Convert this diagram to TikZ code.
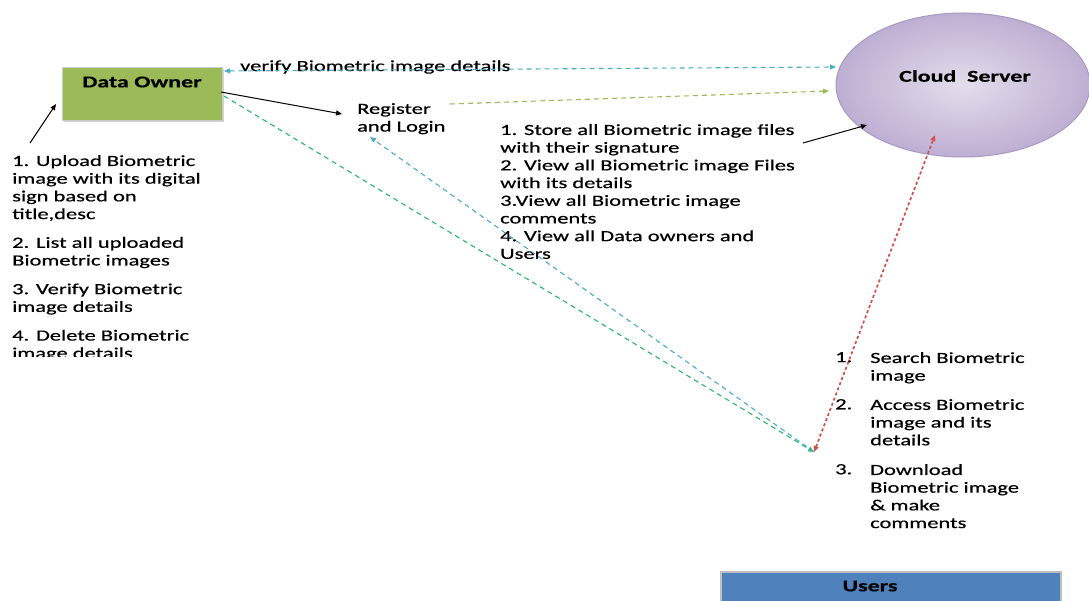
\documentclass[tikz,border=0pt]{standalone}
\usepackage{fontspec}
\setmainfont{Carlito}[FakeStretch=1.45, FakeBold=0.5]
\usetikzlibrary{shadows,arrows.meta,shapes.geometric}
\definecolor{dogreen}{HTML}{9BBB59}
\definecolor{ublue}{HTML}{4F81BD}
\definecolor{lcyan}{HTML}{4BACC6}
\definecolor{lgreen}{HTML}{9BBB59}
\definecolor{dgreen}{HTML}{2BB56A}
\definecolor{lred}{HTML}{D0504D}
\definecolor{cinner}{HTML}{E4DDEC}
\definecolor{couter}{HTML}{BDAFD2}
\definecolor{cborder}{HTML}{A899C2}
\tikzset{
  txt/.style={anchor=north west, inner sep=0pt, align=left, font=\fontsize{15.5}{17.7}\selectfont},
  ttl/.style={inner sep=0pt, font=\fontsize{16.5}{18}\selectfont\bfseries},
  tip/.style={-{Triangle[length=6pt,width=5pt]}},
  tips/.style={{Triangle[length=6pt,width=5pt]}-{Triangle[length=6pt,width=5pt]}},
  dsh/.style={line width=1.1pt, dash pattern=on 5pt off 4pt},
  dot/.style={line width=1.7pt, dash pattern=on 3pt off 2.5pt},
}
\begin{document}
\begin{tikzpicture}[x=1pt,y=-1pt]
\useasboundingbox[fill=white] (0,0) rectangle (1089,601);

% Data Owner box
\node[draw=black!20, fill=dogreen, minimum width=160pt, minimum height=53pt, anchor=north west,
      drop shadow={shadow xshift=2pt, shadow yshift=-2pt, opacity=0.35}] (do) at (62,67) {};
\node[ttl] (dolbl) at (142,82) {Data Owner};

% Cloud Server
\node[ellipse, draw=cborder, line width=1pt, inner color=cinner, outer color=couter,
      minimum width=254pt, minimum height=144pt] (cs) at (963,85) {};
\node[ttl] (cslbl) at (965,76) {Cloud\ \ Server};

% Users box
\node[draw=black!25, line width=1.5pt, fill=ublue, minimum width=340pt, minimum height=34pt, anchor=north west] (us) at (720,571) {};
\node[ttl] (uslbl) at (870,586) {Users};

% Register and Login
\node[txt] (reg) at (357,103) {Register\\and Login};

% label
\node[txt, anchor=west] (vlbl) at (240,67) {verify Biometric image details};

% left block
\begin{scope}
\clip (0,140) rectangle (300,356);
\node[txt] (lb) at (12,155) {1. Upload Biometric\\image with its digital\\sign based on\\title,desc\\[11pt]
2. List all uploaded\\Biometric images\\[11pt]
3. Verify Biometric\\image details\\[11pt]
4. Delete Biometric\\image details};
\end{scope}
\coordinate (lbtop) at (30,143);

% middle block
\node[txt] (mb) at (500,124) {1. Store all Biometric image files\\with their signature\\2. View all Biometric image Files\\with its details\\3.View all Biometric image\\comments\\4. View all Data owners and\\Users};
\coordinate (mbtip) at (803,143);

% right block
\node[txt] (rb1) at (870,352) {Search Biometric\\image};
\node[txt] (rb2) at (870,399) {Access Biometric\\image and its\\details};
\node[txt] (rb3) at (870,464) {Download\\Biometric image\\\& make\\comments};
\node[txt] (rn1) at (835,352) {1.};
\node[txt] (rn2) at (835,399) {2.};
\node[txt] (rn3) at (835,464) {3.};

% users meeting point
\coordinate (up) at (814,452);

% connectors
\draw[tips, dsh, lcyan] (224,71) -- (836,67);
\draw[tip, dsh, lgreen] (450,104) -- (829,91);
\draw[tip, line width=1pt] (221,92) -- (342,114);
\draw[tip, line width=1pt] (lbtop) -- (56,104);
\draw[tip, line width=1pt] (mbtip) -- (867,125);
\draw[tip, dsh, dgreen] (224,96) -- (up);
\draw[tip, dsh, lcyan] (up) -- (370,137);
\draw[tips, dot, lred] (up) -- (935,135);
\end{tikzpicture}
\end{document}
